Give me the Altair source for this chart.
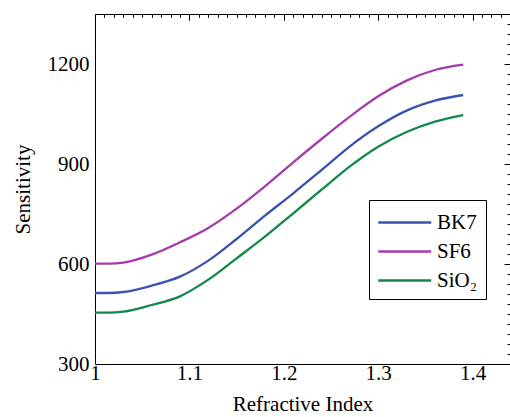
import altair as alt
import pandas as pd

# ---- data ----
n_index = [1.00, 1.015, 1.03, 1.06, 1.09, 1.12, 1.15, 1.18, 1.21, 1.24,
           1.27, 1.30, 1.33, 1.36, 1.39]
bk7 = [513, 513, 516, 535, 562, 610, 675, 745, 812, 882,
       953, 1013, 1060, 1090, 1107]
sf6 = [601, 601, 604, 628, 665, 708, 766, 833, 905, 975,
       1042, 1103, 1150, 1182, 1198]
sio2 = [454, 454, 457, 477, 503, 553, 617, 682, 752, 823,
        893, 952, 996, 1027, 1047]

series = ["BK7", "SF6", "SiO₂"]
colors = ["#3b52b0", "#a53ca9", "#14874b"]

x_major = [1.0, 1.1, 1.2, 1.3, 1.4]
x_minor = [round(1 + 0.01 * i, 2) for i in range(45) if i % 10]
y_major = [300, 600, 900, 1200]
y_minor = [300 + 30 * i for i in range(36) if i % 10]

rows = []
for name, vals in zip(series, [bk7, sf6, sio2]):
    for x, v in zip(n_index, vals):
        rows.append({"n": x, "s": v, "material": name})
df = pd.DataFrame(rows)

W, H = 415, 350
FONT = "Liberation Serif"
FS = 21
xs = alt.Scale(domain=[1, 1.4396], nice=False, zero=False)
ys = alt.Scale(domain=[300, 1350], nice=False, zero=False)

MAJ, MIN = 6, 3


def tick_axis(values, size, orient=None):
    kw = dict(values=values, labels=False, domain=False, ticks=True,
              tickSize=size, offset=-size, grid=False, title=None,
              tickColor="black", tickWidth=1)
    if orient:
        kw["orient"] = orient
    return alt.Axis(**kw)


lines = alt.Chart(df).mark_line(strokeWidth=2.3, interpolate="monotone").encode(
    x=alt.X("n:Q", scale=xs, axis=alt.Axis(
        values=x_major, format="~g", ticks=False, tickSize=0, domain=True,
        domainColor="black", grid=False, title="Refractive Index",
        labelFont=FONT, labelFontSize=FS, labelColor="black", labelPadding=15,
        labelBaseline="alphabetic",
        labelFlush=False, titleFont=FONT, titleFontSize=FS, titleFontWeight="normal",
        titleColor="black", titleY=46, titleBaseline="alphabetic")),
    y=alt.Y("s:Q", scale=ys, axis=alt.Axis(
        values=y_major, format="d", ticks=False, tickSize=0, domain=True,
        domainColor="black", grid=False, title="Sensitivity",
        labelFont=FONT, labelFontSize=FS, labelColor="black", labelPadding=6,
        labelFlush=False, titleFont=FONT, titleFontSize=FS, titleFontWeight="normal",
        titleColor="black", titleX=-72, titleY=H / 2, titleAngle=-90,
        titleBaseline="middle", titleAlign="center")),
    color=alt.Color("material:N", scale=alt.Scale(domain=series, range=colors),
                    legend=alt.Legend(
                        orient="none", legendX=274, legendY=186, title=None,
                        strokeColor="black", fillColor="white", padding=8,
                        symbolType="M-1,0H3", symbolSize=702, symbolStrokeWidth=2.5,
                        labelFont=FONT, labelFontSize=FS, labelColor="black",
                        labelOffset=31, rowPadding=4)),
)


def ghost(xaxis, yaxis):
    return alt.Chart(df).mark_point(opacity=0).encode(
        x=alt.X("n:Q", scale=xs, axis=xaxis),
        y=alt.Y("s:Q", scale=ys, axis=yaxis),
    )


top_frame = ghost(alt.Axis(orient="top", labels=False, ticks=False, domain=True,
                           domainColor="black", grid=False, title=None), None)

chart = alt.layer(
    lines,
    ghost(tick_axis(x_major, MAJ), tick_axis(y_major, MAJ)),
    ghost(tick_axis(x_minor, MIN), tick_axis(y_minor, MIN)),
    top_frame,
    ghost(tick_axis(x_major, MAJ, "top"), None),
    ghost(tick_axis(x_minor, MIN, "top"), None),
).resolve_axis(x="independent", y="independent").properties(
    width=W, height=H,
    autosize=alt.AutoSizeParams(type="none"),
    padding={"left": 95, "top": 14, "right": 0, "bottom": 53},
    background="white",
).configure(font=FONT).configure_axis(
    labelFont=FONT, titleFont=FONT
).configure_legend(labelFont=FONT).configure_view(stroke=None)

chart.save("out.html", embed_options={"renderer": "svg", "actions": False})
